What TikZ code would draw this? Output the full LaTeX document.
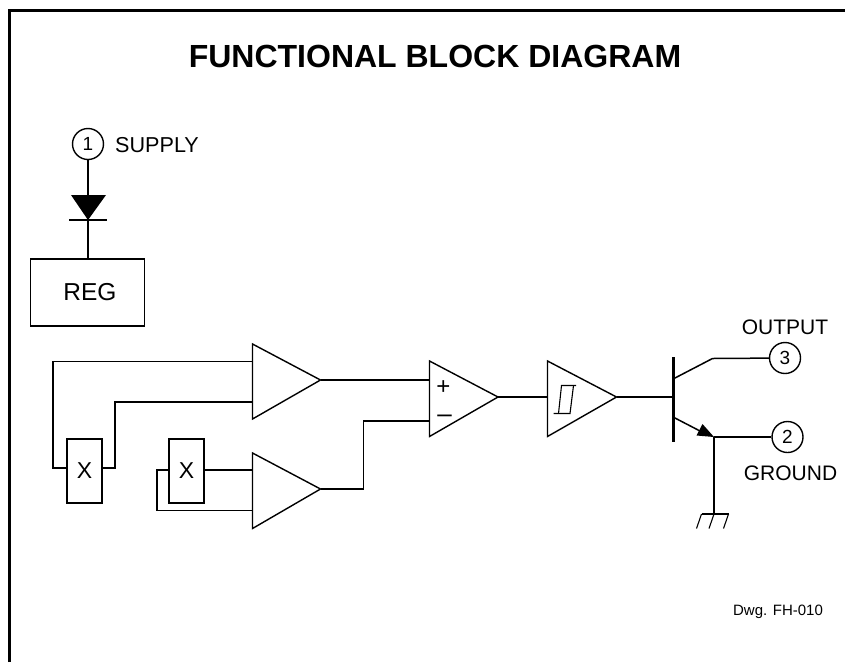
\documentclass[tikz,border=0pt]{standalone}
\usepackage{fontspec}
\setmainfont{Liberation Sans}
\usetikzlibrary{positioning}
\tikzset{
  wire/.style={line width=1.5pt},
  thin wire/.style={line width=1.1pt},
  pin/.style={circle,draw,line width=1.4pt,minimum size=31pt,inner sep=0pt,font=\fontsize{19}{19}\selectfont},
  lab/.style={inner sep=0pt,font=\fontsize{21}{21}\selectfont},
  amp/.style={line width=1.4pt},
  mult/.style={draw,line width=2pt,minimum width=35pt,minimum height=64pt,inner sep=0pt,font=\fontsize{23}{23}\selectfont}
}
\begin{document}
\begin{tikzpicture}[x=1pt,y=-1pt]
	\useasboundingbox (0,0) rectangle (845,662);
	\draw[line width=3pt] (9.5,662) -- (9.5,10.5) -- (845,10.5);
	\node[inner sep=0pt,font=\bfseries\fontsize{32}{32}\selectfont] (title) at (435,56) {FUNCTIONAL BLOCK DIAGRAM};

	% supply side
	\node[pin] (p1) at (88,144) {1};
	\node[lab,anchor=west,font=\fontsize{21.6}{21.6}\selectfont] (supply) at (115,145) {SUPPLY};
	\node[draw,line width=1.5pt,minimum width=114pt,minimum height=67pt,inner sep=0pt,font=\fontsize{24.5}{24.5}\selectfont] (reg) at (87.5,292.5) {\raisebox{-3pt}{\kern5pt REG}};
	\coordinate (dtop) at (88,195);
	\coordinate (dbot) at (88,220);
	\fill (71,195) -- (106,195) -- (dbot) -- cycle;
	\draw[line width=2pt] (69,220) -- (107,220);
	\draw[wire] (p1) -- (dtop);
	\draw[wire] (dbot) -- (dbot |- reg.north);

	% amplifiers
	\draw[amp] (252.5,344) -- (320.5,380) -- (252.5,419) -- cycle;
	\draw[amp] (252.5,453) -- (320.5,489) -- (252.5,528.5) -- cycle;
	\draw[amp] (429.5,361) -- (498,397) -- (429.5,436.5) -- cycle;
	\draw[amp] (547.5,361) -- (616.5,397) -- (547.5,436.5) -- cycle;
	\coordinate (a1o) at (320.5,380);
	\coordinate (a2o) at (320.5,489);
	\coordinate (a3o) at (498,397);
	\coordinate (a4o) at (616.5,397);
	\node[inner sep=0pt,font=\fontsize{24}{24}\selectfont] (plus) at (443.5,388) {+};
	\node[inner sep=0pt,font=\fontsize{26}{26}\selectfont] (minus) at (444.5,419) {--};
	\draw[thin wire] (553.5,413.5) -- (570,413.5) -- (573.5,385.5);
	\draw[thin wire] (558.5,413.5) -- (561.5,385.5) -- (576,385.5);

	% multipliers
	\node[mult] (x1) at (84.5,470.5) {X};
	\node[mult] (x2) at (186.5,470.5) {X};
	\draw[wire] (x1.west |- 0,468) -- (53,468) -- (53,361.5) -- (252.5,361.5);
	\draw[wire] (x1.east |- 0,468) -- (115,468) -- (115,402) -- (252.5,402);
	\draw[wire] (x2.east |- 0,470) -- (252.5,470);
	\draw[wire] (x2.west |- 0,470) -- (157,470) -- (157,510.5) -- (252.5,510.5);

	% comparator and output
	\draw[wire] (a1o) -- (429.5,380);
	\draw[wire] (a2o) -- (363.5,489) -- (363.5,421) -- (429.5,421);
	\draw[wire] (a3o) -- (547.5,397);
	\draw[wire] (a4o) -- (673,397);

	% transistor
	\draw[line width=3.5pt] (673.5,357) -- (673.5,442);
	\node[pin] (p3) at (785,358) {3};
	\node[pin] (p2) at (787.5,437) {2};
	\node[lab] (output) at (785,327) {OUTPUT};
	\node[lab] (ground) at (790.5,473.5) {GROUND};
	\draw[wire] (674,378.5) -- (712.5,358.5) -- (p3);
	\coordinate (emit) at (714,437);
	\draw[wire] (674,417.5) -- (700,431);
	\fill (696.5,435.5) -- (702.5,424) -- (emit) -- cycle;
	\draw[wire] (emit) -- (p2);
	\draw[wire] (emit) -- (714,514);
	\draw[thin wire] (701.5,514) -- (728.5,514);
	\draw[thin wire] (701.5,514) -- (696.5,528.5);
	\draw[thin wire] (714,514) -- (709,528.5);
	\draw[thin wire] (728.5,514) -- (723.5,528.5);

	\node[inner sep=0pt,font=\fontsize{15}{15}\selectfont] (dwg) at (778,612) {Dwg. FH-010};
\end{tikzpicture}
\end{document}
